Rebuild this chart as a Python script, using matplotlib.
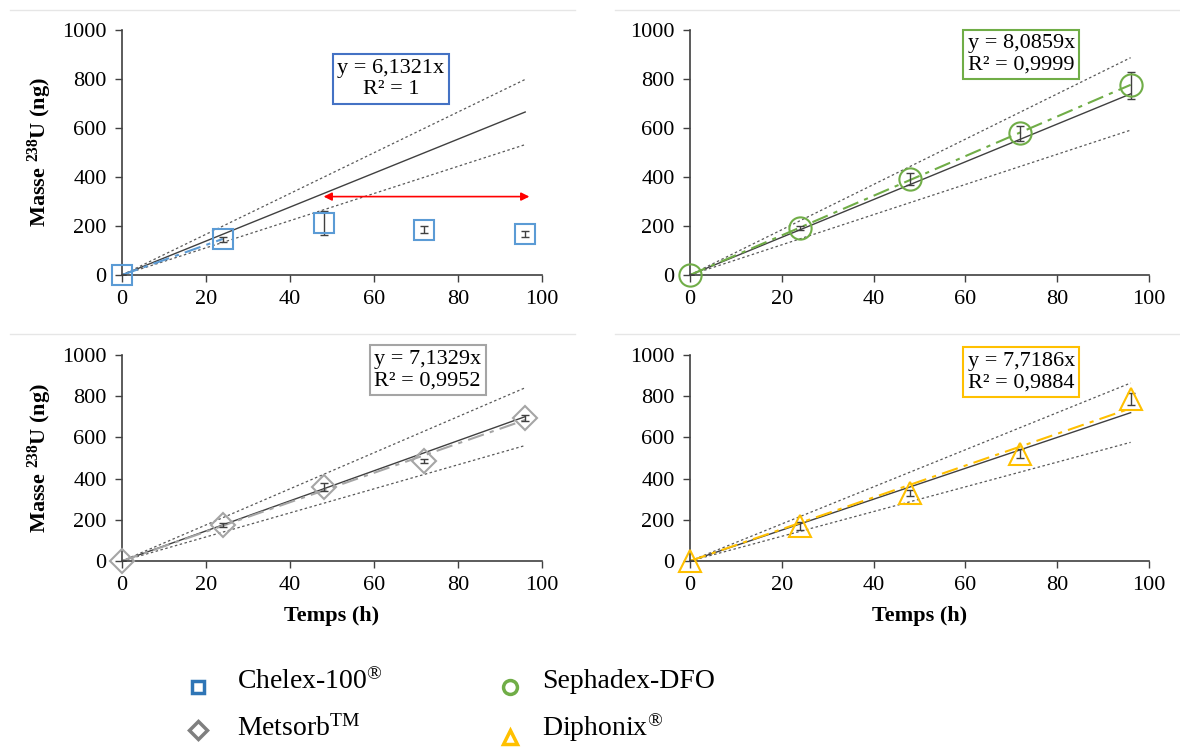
import numpy as np
import matplotlib
matplotlib.use("Agg")
from matplotlib import pyplot as plt
from matplotlib.lines import Line2D

plt.rcParams['font.family'] = ['Liberation Serif', 'DejaVu Serif']
plt.rcParams['mathtext.fontset'] = 'custom'
plt.rcParams['mathtext.rm'] = 'Liberation Serif'
plt.rcParams['mathtext.bf'] = 'Liberation Serif:bold'
plt.rcParams['mathtext.it'] = 'Liberation Serif:italic'

# sampling times (h)
hours = [0, 24, 48, 72, 96]

# measured masses (ng) and error bars
chelex = [0, 145, 212, 185, 168]
chelex_err = [0, 12, 50, 15, 12]
sephadex = [0, 190, 393, 578, 775]
sephadex_err = [0, 8, 25, 30, 55]
metsorb = [0, 175, 360, 485, 695]
metsorb_err = [0, 8, 20, 10, 15]
diphonix = [0, 170, 330, 520, 785]
diphonix_err = [0, 20, 15, 22, 30]

# fitted slopes (trendline) and reference slopes (solid line, +/-20 % dotted)
fit_slopes = [6.1321, 8.0859, 7.1329, 7.7186]
fit_r2 = ["1", "0,9999", "0,9952", "0,9884"]
ref_slopes = [6.93, 7.70, 7.30, 7.50]

names = ["Chelex-100$^{\\circledR}$", "Sephadex-DFO",
         "Metsorb$^{\\mathrm{TM}}$", "Diphonix$^{\\circledR}$"]

W, H = 1180, 747
fig = plt.figure(figsize=(W / 100, H / 100), dpi=100)


def px_axes(x0, x1, y_top, y_bot):
    return fig.add_axes([x0 / W, 1 - y_bot / H, (x1 - x0) / W, (y_bot - y_top) / H])


axes = [px_axes(122, 542, 30, 275), px_axes(690, 1149, 30, 275),
        px_axes(122, 542, 355, 561), px_axes(690, 1149, 355, 561)]

data = [(chelex, chelex_err), (sephadex, sephadex_err),
        (metsorb, metsorb_err), (diphonix, diphonix_err)]
colors = ["#5B9BD5", "#70AD47", "#A5A5A5", "#FFC000"]
box_colors = ["#4472C4", "#70AD47", "#A5A5A5", "#FFC000"]
markers = ["s", "o", "D", "^"]
msizes = [14, 16, 12, 16]
# equation box position (data coords) and alignment
box_pos = [(64, 800, "center"), (60.5, 900, "left"), (60, 927, "left"), (60.5, 917, "left")]

xs = np.array([0, 96])
for i, ax in enumerate(axes):
    y, e = data[i]
    s = ref_slopes[i]
    ax.plot(xs, s * 1.2 * xs, color="#595959", lw=0.9, ls=(0, (2, 2)))
    ax.plot(xs, s * 0.8 * xs, color="#595959", lw=0.9, ls=(0, (2, 2)))
    ax.plot(xs, s * xs, color="#404040", lw=1.0)
    fx = np.array([0, 24]) if i == 0 else xs
    ax.plot(fx, fit_slopes[i] * fx, color=colors[i], lw=1.5, ls=(0, (8, 3, 2, 3)))
    ax.errorbar(hours, y, yerr=e, fmt="none", ecolor="#404040", elinewidth=1, capsize=3)
    ax.plot(hours, y, ls="none", marker=markers[i], ms=msizes[i], mfc="none",
            mec=colors[i], mew=1.5, clip_on=False, zorder=5)

    ax.set_xlim(0, 100)
    ax.set_ylim(0, 1000)
    ax.set_xticks(range(0, 101, 20))
    ax.set_yticks(range(0, 1001, 200))
    ax.tick_params(labelsize=16, length=5, width=1, color="#404040", direction="out", pad=6)
    for sp in ["top", "right"]:
        ax.spines[sp].set_visible(False)
    for sp in ["left", "bottom"]:
        ax.spines[sp].set_color("#404040")
        ax.spines[sp].set_linewidth(1.2)
    ax.patch.set_alpha(0)

    bx, by, ha = box_pos[i]
    ax.text(bx, by, "y = %sx\nR² = %s" % (("%.4f" % fit_slopes[i]).replace(".", ","), fit_r2[i]),
            fontsize=16, ha=ha, va="center", multialignment=ha, zorder=6,
            bbox=dict(boxstyle="square,pad=0.2", fc="white", ec=box_colors[i], lw=1.5))

for ax in (axes[0], axes[2]):
    ax.set_ylabel("Masse $^{\\mathbf{238}}$U (ng)", fontsize=16, fontweight="bold", labelpad=6)
for ax in (axes[2], axes[3]):
    ax.set_xlabel("Temps (h)", fontsize=16, fontweight="bold", labelpad=8)

# red double arrow (drop of uptake for Chelex)
axes[0].annotate("", xy=(97, 320), xytext=(48, 320),
                 arrowprops=dict(arrowstyle="<|-|>", color="#FF0000", lw=1.2,
                                 mutation_scale=12, shrinkA=0, shrinkB=0))

# faint separator lines
for yy in (10, 334):
    fig.add_artist(Line2D([10 / W, 575 / W], [1 - yy / H] * 2, color="#E6E6E6", lw=1))
    fig.add_artist(Line2D([615 / W, 1 - 1 / W], [1 - yy / H] * 2, color="#E6E6E6", lw=1))

# legend, laid out by hand in pixel positions
legend_colors = ["#2E75B6", "#70AD47", "#7F7F7F", "#FFC000"]
leg_marker_xy = [(198, 687), (510, 687), (198, 730), (510, 737)]
leg_text_xy = [(237, 682), (542, 682), (237, 728), (542, 728)]
leg_ms = [9, 10, 9, 10]
for k in range(4):
    mx, my = leg_marker_xy[k]
    fig.add_artist(Line2D([mx / W], [1 - my / H], ls="none", marker=markers[k], ms=leg_ms[k],
                          mfc="none", mec=legend_colors[k], mew=2.5))
    tx, ty = leg_text_xy[k]
    fig.text(tx / W, 1 - ty / H, names[k], fontsize=20, ha="left", va="center")

fig.savefig("out.png", dpi=100)
